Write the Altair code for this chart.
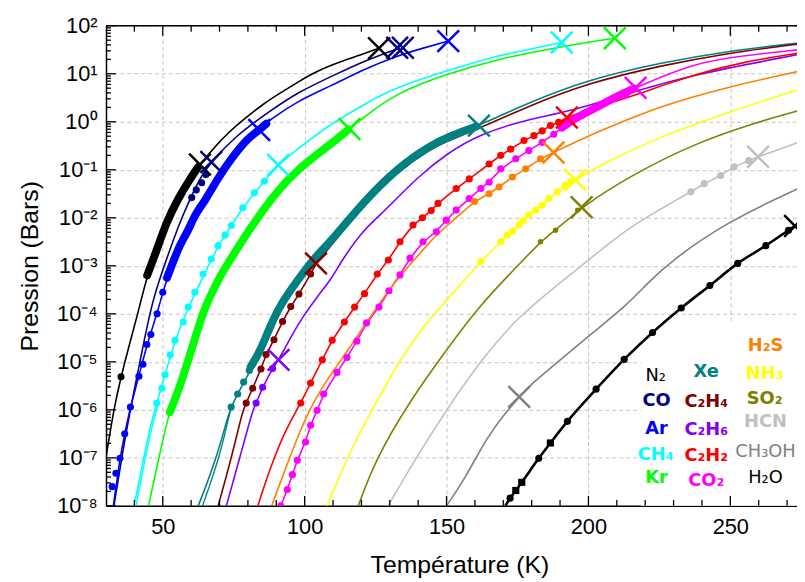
import altair as alt
import pandas as pd

W, H = 698, 485
T_MIN, T_MAX = 30.0, 273.5

# ---------------- axis values ----------------
x_major = [50, 100, 150, 200, 250]
x_minor = [40, 60, 70, 80, 90, 110, 120, 130, 140, 160, 170, 180, 190,
           210, 220, 230, 240, 260, 270]
y_decades = [-8, -7, -6, -5, -4, -3, -2, -1, 0, 1, 2]
y_minor_mult = [2, 3, 4, 5, 6, 7, 8, 9]
y_sup = ["⁻⁸", "⁻⁷", "⁻⁶", "⁻⁵", "⁻⁴", "⁻³", "⁻²", "⁻¹", "⁰", "¹", "²"]

# ---------------- gases ----------------
gases = ["N2", "CO", "Ar", "CH4", "Kr", "Xe", "C2H4", "C2H6", "C2H2", "CO2",
         "H2S", "NH3", "SO2", "HCN", "CH3OH", "H2O"]
colors = ["#000000", "#000080", "#0000ff", "#00ffff", "#00ff00", "#008080",
          "#800000", "#8000ff", "#ff0000", "#ff00ff", "#ff8000", "#ffff00",
          "#808000", "#c0c0c0", "#808080", "#000000"]
labels = ["N₂", "CO", "Ar", "CH₄", "Kr", "Xe", "C₂H₄", "C₂H₆", "C₂H₂", "CO₂",
          "H₂S", "NH₃", "SO₂", "HCN", "CH₃OH", "H₂O"]
label_bold = [False, True, True, True, True, True, True, True, True, True,
              True, True, True, True, False, False]
label_T = [223.7, 224.0, 224.0, 223.7, 224.0, 241.5, 241.5, 241.5, 241.5, 241.5,
           262.4, 262.1, 262.1, 262.4, 262.4, 262.4]
label_logP = [-5.30, -5.81, -6.39, -6.95, -7.42, -5.22, -5.84, -6.43, -6.97, -7.48,
              -4.68, -5.26, -5.77, -6.25, -6.87, -7.42]

box_T = [218.5, 274.0]
box_logP = [-8.0, -4.2]

# ---------------- saturation curves (T in K, log10 P in bar) ----------------
N2_T = [29.8, 30.6, 32.7, 35.3, 38.0, 40.9, 44.5, 47.4, 51.5, 55.6, 59.1, 63.1, 68.9,
        74.2, 77.5, 86.0, 92.0, 97.4, 104.4, 112.6, 120.0, 126.2]
N2_L = [-7.05, -6.78, -6.0, -5.31, -4.69, -4.07, -3.2, -2.75, -2.06, -1.58, -1.24, -0.89,
        -0.48, -0.17, 0.0, 0.4, 0.62, 0.82, 1.06, 1.25, 1.4, 1.53]
CO_T = [32.8, 36.2, 39.7, 43.2, 46.7, 50.8, 56.1, 60.1, 63.1, 67.1, 75.9, 87.5, 97.4,
        111.4, 121.5, 133.6]
CO_L = [-8.0, -6.75, -5.65, -4.62, -3.65, -2.95, -2.07, -1.55, -1.17, -0.84, -0.28, 0.21,
        0.61, 1.0, 1.28, 1.54]
Ar_T = [32.6, 34.9, 36.6, 38.6, 41.6, 44.4, 48.0, 50.0, 52.6, 56.1, 59.0, 61.4, 64.9,
        69.5, 74.2, 80.0, 84.0, 87.5, 97.4, 109.1, 120.7, 132.4, 141.5, 150.6]
Ar_L = [-8.0, -7.01, -6.5, -5.94, -5.3, -4.64, -4.0, -3.55, -3.08, -2.54, -2.27, -1.92,
        -1.65, -1.17, -0.76, -0.34, -0.17, 0.03, 0.43, 0.74, 1.09, 1.37, 1.53, 1.68]
CH4_T = [39.9, 43.2, 45.6, 47.9, 50.8, 54.3, 59.0, 64.8, 69.5, 74.2, 78.2, 82.3, 85.8,
         90.7, 97.4, 104.0, 109.1, 120.7, 132.4, 149.9, 167.4, 180.0, 190.6]
CH4_L = [-8.0, -7.03, -6.34, -5.86, -5.27, -4.55, -3.86, -3.16, -2.58, -2.16, -1.79,
         -1.48, -1.24, -0.9, -0.57, -0.28, -0.06, 0.36, 0.72, 1.06, 1.37, 1.52, 1.65]
CH4b_T = [40.6, 43.8, 46.4, 48.6]
CH4b_L = [-8.0, -7.0, -6.3, -5.84]
Kr_T = [45.0, 48.5, 52.0, 53.1, 56.1, 59.0, 61.9, 64.8, 68.9, 70.7, 74.1, 76.5, 83.5,
        90.4, 97.4, 106.8, 111.4, 115.8, 120.7, 132.4, 149.9, 167.4, 190.7, 209.3]
Kr_L = [-8.0, -7.03, -6.13, -5.93, -5.51, -4.96, -4.41, -3.86, -3.38, -3.16, -2.85,
        -2.61, -1.99, -1.44, -1.0, -0.57, -0.36, -0.15, 0.09, 0.6, 0.99, 1.3, 1.57, 1.74]
Xe_T = [62.5, 68.9, 73.5, 75.9, 79.4, 84.0, 87.5, 91.0, 95.7, 99.8, 104.0, 109.1, 120.7,
        132.4, 144.0, 152.0, 161.4, 179.0, 200.0, 225.6, 248.9, 274.0]
Xe_L = [-8.0, -7.03, -6.0, -5.72, -5.34, -4.82, -4.31, -3.86, -3.45, -3.12, -2.8, -2.5,
        -1.67, -0.98, -0.5, -0.28, -0.08, 0.4, 0.88, 1.23, 1.47, 1.64]
Xeb_T = [64.0, 70.0, 74.1]
Xeb_L = [-8.0, -7.0, -5.94]
C2H4_T = [69.5, 74.1, 78.2, 79.4, 81.7, 84.6, 86.4, 89.2, 92.2, 95.1, 98.0, 102.1, 104.0,
          109.1, 120.7, 132.4, 144.0, 152.0, 161.0, 179.0, 200.0, 225.6, 248.9, 274.0]
C2H4_L = [-8.0, -7.03, -6.0, -5.86, -5.55, -5.15, -4.85, -4.54, -4.16, -3.85, -3.59,
          -3.17, -2.95, -2.6, -1.74, -1.05, -0.57, -0.36, -0.15, 0.33, 0.81, 1.17, 1.43, 1.62]
C2H6_T = [72.4, 77.0, 81.7, 82.9, 85.2, 88.7, 90.8, 95.0, 99.2, 105.0, 109.1, 113.2,
          120.0, 126.6, 132.4, 140.0, 149.9, 161.5, 179.0, 191.8, 213.4, 236.6, 274.0]
C2H6_L = [-8.0, -7.03, -6.0, -5.86, -5.53, -5.14, -4.96, -4.5, -4.07, -3.6, -3.3, -2.88,
          -2.3, -1.94, -1.6, -1.15, -0.67, -0.26, 0.06, 0.19, 0.58, 0.98, 1.4]
C2H2_T = [83.5, 86.5, 89.3, 93.0, 98.6, 102.1, 106.2, 109.7, 114.0, 117.6, 121.1, 125.6,
          129.5, 133.6, 138.2, 141.5, 144.6, 147.0, 153.4, 158.0, 165.0, 169.1, 172.6,
          177.3, 180.8, 183.7, 186.6, 189.5, 192.4, 200.0, 214.0, 237.3, 255.0, 274.0]
C2H2_L = [-8.0, -7.45, -7.0, -6.45, -5.86, -5.44, -4.96, -4.55, -4.17, -3.86, -3.58,
          -3.17, -2.88, -2.5, -2.15, -2.0, -1.85, -1.7, -1.39, -1.19, -0.88, -0.7, -0.57,
          -0.39, -0.29, -0.19, -0.08, -0.01, 0.09, 0.25, 0.5, 0.99, 1.25, 1.43]
CO2_T = [91.6, 93.9, 95.7, 97.4, 100.3, 102.1, 104.4, 106.7, 111.4, 114.9, 118.4, 121.8,
         126.2, 129.7, 133.6, 137.1, 141.7, 146.4, 149.9, 153.4, 158.0, 162.1, 165.0,
         169.1, 174.4, 179.0, 183.7, 187.8, 190.7, 196.0, 202.3, 209.0, 216.6, 237.3,
         255.0, 274.0]
CO2_L = [-8.0, -7.66, -7.35, -7.05, -6.67, -6.32, -6.01, -5.67, -5.22, -4.91, -4.57,
         -4.19, -3.86, -3.52, -3.19, -2.84, -2.5, -2.29, -2.05, -1.84, -1.6, -1.39, -1.26,
         -0.98, -0.77, -0.6, -0.43, -0.26, -0.12, 0.1, 0.28, 0.5, 0.71, 1.23, 1.38, 1.5]
H2S_T = [88.4, 91.5, 94.5, 98.0, 101.5, 105.5, 109.9, 116.9, 123.8, 132.0, 138.4, 144.0,
         150.0, 155.7, 159.9, 165.0, 168.5, 173.2, 177.9, 183.1, 187.7, 200.0, 212.0,
         225.6, 248.6, 274.0]
H2S_L = [-8.0, -7.5, -7.03, -6.5, -6.02, -5.6, -5.2, -4.62, -4.0, -3.31, -2.9, -2.5,
         -2.17, -1.88, -1.66, -1.5, -1.36, -1.15, -0.98, -0.77, -0.64, -0.29, 0.0, 0.33,
         0.72, 1.05]
NH3_T = [107.9, 109.9, 116.9, 123.8, 133.1, 140.1, 148.3, 156.4, 162.1, 169.1, 173.3,
         179.0, 183.7, 189.0, 195.4, 204.7, 225.6, 248.9, 274.0]
NH3_L = [-8.0, -7.71, -6.75, -6.0, -5.0, -4.4, -3.82, -3.3, -2.91, -2.5, -2.28, -1.94,
         -1.74, -1.46, -1.21, -0.88, -0.3, 0.19, 0.67]
SO2_T = [118.9, 125.0, 136.6, 148.3, 161.0, 176.7, 183.1, 188.4, 197.6, 214.0, 237.3,
         259.9, 274.0]
SO2_L = [-8.0, -7.03, -5.86, -4.89, -3.86, -2.9, -2.5, -2.26, -1.78, -1.15, -0.45, 0.0, 0.23]
HCN_T = [129.4, 138.9, 150.0, 162.2, 175.0, 190.7, 202.3, 214.0, 225.6, 236.1, 240.8,
         246.6, 251.3, 256.5, 259.8, 274.0]
HCN_L = [-8.0, -7.03, -6.0, -4.96, -4.07, -3.32, -2.77, -2.22, -1.81, -1.46, -1.29,
         -1.12, -0.94, -0.81, -0.73, -0.43]
CH3OH_T = [150.0, 156.4, 164.5, 170.0, 175.6, 179.7, 190.1, 201.7, 213.4, 221.0, 229.1,
           248.9, 274.0]
CH3OH_L = [-8.0, -7.44, -6.55, -6.12, -5.73, -5.47, -4.96, -4.38, -3.83, -3.35, -2.9,
           -2.08, -1.39]
H2O_T = [170.7, 172.4, 174.4, 176.5, 182.5, 186.6, 192.6, 202.7, 212.6, 222.6, 232.7,
         242.8, 252.6, 262.5, 270.5, 272.8]
H2O_L = [-8.0, -7.84, -7.68, -7.51, -7.01, -6.69, -6.24, -5.57, -4.95, -4.39, -3.88,
         -3.41, -2.95, -2.58, -2.26, -2.17]

# ---------------- dense measurement bands ----------------
N2_band_T = [44.5, 47.4, 51.5, 55.6, 59.1, 62.5]
N2_band_L = [-3.2, -2.75, -2.06, -1.58, -1.24, -0.94]
Ar_band_T = [51.5, 52.6, 56.1, 59.0, 61.4, 64.9, 69.5, 74.2, 80.0, 84.0, 86.5]
Ar_band_L = [-3.25, -3.08, -2.54, -2.27, -1.92, -1.65, -1.17, -0.76, -0.34, -0.17, -0.04]
Kr_band_T = [52.5, 56.1, 59.0, 61.9, 64.8, 68.9, 70.7, 74.1, 76.5, 83.5, 90.4, 97.4,
             106.8, 111.4, 115.5]
Kr_band_L = [-6.05, -5.51, -4.96, -4.41, -3.86, -3.38, -3.16, -2.85, -2.61, -1.99, -1.44,
             -1.0, -0.57, -0.36, -0.16]
Xe_band_T = [81.0, 84.0, 87.5, 91.0, 95.7, 99.8, 104.0, 109.1, 120.7, 132.4, 144.0,
             152.0, 160.5]
Xe_band_L = [-5.1, -4.82, -4.31, -3.86, -3.45, -3.12, -2.8, -2.5, -1.67, -0.98, -0.5,
             -0.28, -0.1]
CO2_band_T = [190.7, 196.0, 202.3, 209.0, 216.0]
CO2_band_L = [-0.12, 0.1, 0.28, 0.5, 0.69]

# ---------------- individual measurement points ----------------
N2_dot_T = [35.3]
N2_dot_L = [-5.31]
CO_dot_T = [60.2, 61.8, 63.7, 65.2]
CO_dot_L = [-1.58, -1.42, -1.27, -1.1]
Ar_dot_T = [32.2, 33.5, 34.9, 36.6, 38.6, 41.6, 43.0, 44.4, 45.8, 48.0, 50.0]
Ar_dot_L = [-7.6, -7.32, -7.01, -6.5, -5.94, -5.3, -5.05, -4.64, -4.43, -4.0, -3.55]
CH4_dot_T = [47.9, 49.7, 50.8, 52.6, 54.3, 57.2, 59.0, 61.3, 64.2, 67.1, 69.5, 72.0,
             74.2, 78.2, 82.3, 85.8]
CH4_dot_L = [-5.86, -5.55, -5.27, -4.86, -4.55, -4.17, -3.86, -3.55, -3.17, -2.86,
             -2.58, -2.36, -2.16, -1.79, -1.48, -1.24]
Xe_dot_T = [74.1, 76.4, 78.5, 80.5]
Xe_dot_L = [-5.94, -5.67, -5.42, -5.18]
C2H4_dot_T = [79.4, 81.7, 84.6, 86.4, 89.2, 92.2, 95.1, 98.0, 102.1]
C2H4_dot_L = [-5.86, -5.55, -5.15, -4.85, -4.54, -4.16, -3.85, -3.59, -3.17]
C2H6_dot_T = [82.9, 85.2, 88.7]
C2H6_dot_L = [-5.86, -5.53, -5.14]
C2H2_dot_T = C2H2_T[4:28]
C2H2_dot_L = C2H2_L[4:28]
CO2_dot_T = CO2_T[0:29]
CO2_dot_L = CO2_L[0:29]
H2S_dot_T = [159.9, 165.0, 168.5, 173.2, 177.9, 183.1]
H2S_dot_L = [-1.66, -1.5, -1.36, -1.15, -0.98, -0.77]
NH3_dot_T = [162.1, 169.1, 171.4, 173.3, 175.5, 177.0, 179.0, 181.4, 183.7, 186.0,
             189.0, 191.8, 193.8]
NH3_dot_L = [-2.91, -2.5, -2.36, -2.28, -2.15, -2.06, -1.94, -1.84, -1.74, -1.6,
             -1.46, -1.32, -1.25]
SO2_dot_T = [183.1, 188.4, 196.2]
SO2_dot_L = [-2.5, -2.26, -1.84]
HCN_dot_T = [236.1, 240.8, 246.6, 251.3, 256.5]
HCN_dot_L = [-1.46, -1.29, -1.12, -0.94, -0.81]
H2O_dot_T = [172.4, 182.5, 192.6, 202.7, 212.6, 222.6, 232.7, 242.8, 252.6, 262.5, 270.5]
H2O_dot_L = [-7.84, -7.01, -6.24, -5.57, -4.95, -4.39, -3.88, -3.41, -2.95, -2.58, -2.26]
H2O_sq_T = [174.4, 176.5, 186.6]
H2O_sq_L = [-7.68, -7.51, -6.69]

# ---------------- triple / critical points ----------------
X_gas = ["N2", "N2", "CO", "CO", "CO", "Ar", "Ar", "CH4", "CH4", "Kr", "Kr", "Xe",
         "C2H4", "C2H6", "C2H2", "CO2", "H2S", "NH3", "SO2", "HCN", "CH3OH", "H2O"]
X_T = [63.1, 126.2, 67.1, 132.6, 134.6, 84.0, 150.6, 90.7, 190.6, 115.8, 209.3, 161.4,
       104.0, 90.8, 192.4, 216.6, 187.7, 195.4, 197.6, 259.8, 175.6, 272.8]
X_L = [-0.89, 1.53, -0.84, 1.54, 1.54, -0.17, 1.68, -0.9, 1.65, -0.15, 1.74, -0.08,
       -2.95, -4.96, 0.09, 0.71, -0.64, -1.21, -1.78, -0.73, -5.73, -2.17]


def frame(series):
    rows = []
    for gas, (ts, ls) in series.items():
        for t, l in zip(ts, ls):
            rows.append({"gas": gas, "T": t, "logP": l})
    df = pd.DataFrame(rows)
    df["P"] = 10.0 ** df["logP"]
    return df


line_df = frame({
    "N2": (N2_T, N2_L), "CO": (CO_T, CO_L), "Ar": (Ar_T, Ar_L), "CH4": (CH4_T, CH4_L),
    "Kr": (Kr_T, Kr_L), "Xe": (Xe_T, Xe_L), "C2H4": (C2H4_T, C2H4_L),
    "C2H6": (C2H6_T, C2H6_L), "C2H2": (C2H2_T, C2H2_L), "CO2": (CO2_T, CO2_L),
    "H2S": (H2S_T, H2S_L), "NH3": (NH3_T, NH3_L), "SO2": (SO2_T, SO2_L),
    "HCN": (HCN_T, HCN_L), "CH3OH": (CH3OH_T, CH3OH_L),
})
line2_df = frame({"CH4": (CH4b_T, CH4b_L), "Xe": (Xeb_T, Xeb_L)})
h2o_df = frame({"H2O": (H2O_T, H2O_L)})
band_df = frame({
    "N2": (N2_band_T, N2_band_L), "Ar": (Ar_band_T, Ar_band_L),
    "Kr": (Kr_band_T, Kr_band_L), "Xe": (Xe_band_T, Xe_band_L),
    "CO2": (CO2_band_T, CO2_band_L),
})
dot_df = frame({
    "N2": (N2_dot_T, N2_dot_L), "CO": (CO_dot_T, CO_dot_L), "Ar": (Ar_dot_T, Ar_dot_L),
    "CH4": (CH4_dot_T, CH4_dot_L), "Xe": (Xe_dot_T, Xe_dot_L),
    "C2H4": (C2H4_dot_T, C2H4_dot_L), "C2H6": (C2H6_dot_T, C2H6_dot_L),
    "C2H2": (C2H2_dot_T, C2H2_dot_L), "CO2": (CO2_dot_T, CO2_dot_L),
    "H2S": (H2S_dot_T, H2S_dot_L), "NH3": (NH3_dot_T, NH3_dot_L),
    "HCN": (HCN_dot_T, HCN_dot_L), "H2O": (H2O_dot_T, H2O_dot_L),
})
small_dot_df = frame({"SO2": (SO2_dot_T, SO2_dot_L)})
sq_df = frame({"H2O": (H2O_sq_T, H2O_sq_L)})
x_df = pd.DataFrame({"gas": X_gas, "T": X_T, "logP": X_L})
x_df["P"] = 10.0 ** x_df["logP"]
lab_df = pd.DataFrame({"gas": gases, "label": labels, "bold": label_bold,
                       "T": label_T, "logP": label_logP})
lab_df["P"] = 10.0 ** lab_df["logP"]
box_df = pd.DataFrame({"T": [box_T[0]], "T2": [box_T[1]],
                       "P": [10.0 ** box_logP[0]], "P2": [10.0 ** box_logP[1]]})

y_major_P = [10.0 ** e for e in y_decades]
y_minor_P = [m * 10.0 ** e for e in y_decades[:-1] for m in y_minor_mult]

# ---------------- scales & axes ----------------
FONT = "Liberation Sans"
x_scale = alt.Scale(domain=[T_MIN, T_MAX], nice=False, zero=False)
y_scale = alt.Scale(type="log", domain=[1e-8, 1e2], nice=False)
color_scale = alt.Scale(domain=gases, range=colors)

sup_list = "[" + ",".join("'" + s + "'" for s in y_sup) + "]"

x_axis = alt.Axis(values=x_major, grid=True, gridDash=[4, 3], gridColor="#c4c4c4",
                  gridWidth=1, ticks=False, tickSize=0, labelFont=FONT, labelFontSize=22,
                  labelColor="black", labelPadding=11, domainColor="black",
                  domainWidth=1.5, title="Température (K)", titleFont=FONT,
                  titleFontSize=25, titleFontWeight="normal", titleColor="black",
                  titleX=357, titleY=59, titleAlign="center", titleBaseline="middle")
y_axis = alt.Axis(values=y_major_P, grid=True, gridDash=[4, 3], gridColor="#c4c4c4",
                  gridWidth=1, ticks=False, tickSize=0, labelFont=FONT, labelFontSize=22,
                  labelColor="black", labelPadding=9, domainColor="black",
                  domainWidth=1.5,
                  labelExpr="'10' + " + sup_list + "[round(log(datum.value)/LN10)+8]",
                  title="Pression (Bars)", titleFont=FONT, titleFontSize=25,
                  titleFontWeight="normal", titleColor="black", titleX=-77,
                  titleY=242.5, titleAngle=270, titleAlign="center",
                  titleBaseline="middle")


def X(field="T"):
    return alt.X(field + ":Q", scale=x_scale, axis=x_axis)


def Y(field="P"):
    return alt.Y(field + ":Q", scale=y_scale, axis=y_axis)


col = alt.Color("gas:N", scale=color_scale, legend=None)

box = alt.Chart(box_df).mark_rect(color="white").encode(
    x=X(), x2="T2:Q", y=Y(), y2="P2:Q")

lines = alt.Chart(line_df).mark_line(strokeWidth=1.6, clip=True,
                                      interpolate="basis").encode(
    x=X(), y=Y(), color=col, detail="gas:N", order="T:Q")
lines2 = alt.Chart(line2_df).mark_line(strokeWidth=1.4, clip=True,
                                        interpolate="basis").encode(
    x=X(), y=Y(), color=col, detail="gas:N", order="T:Q")
h2o_line = alt.Chart(h2o_df).mark_line(strokeWidth=2.6, clip=True, color="black",
                                        interpolate="monotone").encode(
    x=X(), y=Y(), order="T:Q")
bands = alt.Chart(band_df).mark_line(strokeWidth=8, strokeCap="round",
                                      strokeJoin="round", clip=True,
                                      interpolate="basis").encode(
    x=X(), y=Y(), color=col, detail="gas:N", order="T:Q")
dots = alt.Chart(dot_df).mark_circle(size=52, opacity=1, clip=True).encode(
    x=X(), y=Y(), color=col)
small_dots = alt.Chart(small_dot_df).mark_circle(size=30, opacity=1).encode(
    x=X(), y=Y(), color=col)
squares = alt.Chart(sq_df).mark_square(size=52, opacity=1, color="black").encode(
    x=X(), y=Y())
crosses = alt.Chart(x_df).mark_point(shape="M-1,-1L1,1M-1,1L1,-1", size=480,
                                     strokeWidth=2.5, filled=False, opacity=1).encode(
    x=X(), y=Y(), color=col)
legend_bold = alt.Chart(lab_df).transform_filter("datum.bold").mark_text(
    font="DejaVu Sans", fontSize=18, fontWeight="bold", align="center",
    baseline="middle").encode(x=X(), y=Y(), text="label:N", color=col)
legend_plain = alt.Chart(lab_df).transform_filter("!datum.bold").mark_text(
    font="DejaVu Sans", fontSize=18, fontWeight="normal", align="center",
    baseline="middle").encode(x=X(), y=Y(), text="label:N", color=col)

# inward ticks
xt_major_df = pd.DataFrame({"T": x_major})
xt_minor_df = pd.DataFrame({"T": x_minor})
yt_major_df = pd.DataFrame({"P": y_major_P})
yt_minor_df = pd.DataFrame({"P": y_minor_P})
tick_style = dict(color="black", strokeWidth=1.3)
ticks = [
    alt.Chart(xt_major_df).mark_rule(**tick_style).encode(
        x=X(), y=alt.value(H), y2=alt.value(H - 10)),
    alt.Chart(xt_minor_df).mark_rule(**tick_style).encode(
        x=X(), y=alt.value(H), y2=alt.value(H - 6)),
    alt.Chart(xt_major_df).mark_rule(**tick_style).encode(
        x=X(), y=alt.value(0), y2=alt.value(10)),
    alt.Chart(xt_minor_df).mark_rule(**tick_style).encode(
        x=X(), y=alt.value(0), y2=alt.value(6)),
    alt.Chart(yt_major_df).mark_rule(**tick_style).encode(
        y=Y(), x=alt.value(0), x2=alt.value(10)),
    alt.Chart(yt_minor_df).mark_rule(**tick_style).encode(
        y=Y(), x=alt.value(0), x2=alt.value(5)),
]
top_border = alt.Chart(pd.DataFrame({"a": [0]})).mark_rule(
    color="black", strokeWidth=1.5).encode(x=alt.value(0), x2=alt.value(W), y=alt.value(0))

chart = alt.layer(
    box, lines, lines2, bands, dots, small_dots, h2o_line, squares, crosses,
    legend_bold, legend_plain, *ticks, top_border
).properties(
    width=W, height=H,
    autosize=alt.AutoSizeParams(type="none"),
    padding={"left": 99, "top": 15, "right": 0, "bottom": 74},
).configure_view(stroke=None)

chart.save("out.html", embed_options={"renderer": "svg", "actions": False})
